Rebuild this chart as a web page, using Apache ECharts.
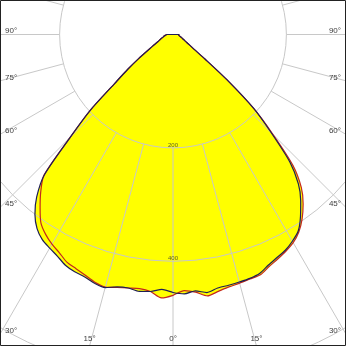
<!DOCTYPE html>
<html>
<head>
<meta charset="utf-8">
<script src="https://cdn.jsdelivr.net/npm/echarts@6/dist/echarts.min.js"></script>
<style>
html,body{margin:0;padding:0;background:#fff;}
#c{width:346px;height:346px;}
</style>
</head>
<body>
<div id="c"></div>
<script>
// Photometric angles (gamma, degrees from nadir)
const gammaAngles = [0,2.5,5,7.5,10,12.5,15,17.5,20,22.5,25,27.5,30,32.5,35,37.5,40,42.5,45,47.5,50,52.5,55,60,65,70,75,80,85,90];
// Intensity values (cd/klm)
const blackLeft  = [455,450,455,457,454,456,462,460,455,453,449,441,435,429,418,400,374,336,256,198,134,100,74,42,29,23,18,16,13,11];
const blackRight = [455,458,454,459,454,453,452,451,448,440,434,429,421,411,392,370,344,305,245,193,124,71,45,28,20,16,13,11,10,11];
const redLeft    = [460,465,455,452,454,457,461,458,452,447,443,434,427,418,406,385,363,337,256,198,134,100,74,42,29,23,18,16,13,11];
const redRight   = [460,452,456,465,460,456,454,452,451,443,437,431,424,413,397,377,352,313,250,193,124,71,45,28,20,16,13,11,10,11];
// Tick labels
const radiusTicks = [200, 400];
const radiusTickLabels = ['200', '400'];
const angleTicks = [90, 75, 60, 45, 30, 15, 0];
const angleTickLabels = ['90°', '75°', '60°', '45°', '30°', '15°', '0°'];

const W = 346, H = 346;
const CX = 173, CY = 34.5;
const R_MAX = 800, PX_PER_UNIT = 0.567;
const SMOOTH = 0.25;

function curve(leftVals, rightVals) {
  const pts = [[0, 180]];
  for (let i = gammaAngles.length - 1; i >= 0; i--) pts.push([leftVals[i], gammaAngles[i]]);
  for (let i = 1; i < gammaAngles.length; i++) pts.push([rightVals[i], 360 - gammaAngles[i]]);
  pts.push([0, 180]);
  return pts;
}

const gridColor = '#c8c8c8';
const series = [];
// fills
[[redLeft, redRight], [blackLeft, blackRight]].forEach(([l, r]) => {
  series.push({
    type: 'line', coordinateSystem: 'polar', data: curve(l, r), symbol: 'none', silent: true, smooth: SMOOTH,
    lineStyle: { width: 0, opacity: 0 }, areaStyle: { color: '#ffff00', opacity: 1 }, z: 1, animation: false
  });
});
// radial grid lines starting at the first circle
for (let a = 0; a < 360; a += 15) {
  series.push({
    type: 'line', coordinateSystem: 'polar', data: [[200, a], [R_MAX, a]], symbol: 'none', silent: true,
    lineStyle: { color: gridColor, width: 1 }, z: 3, animation: false
  });
}
// curves
series.push({
  type: 'line', coordinateSystem: 'polar', data: curve(redLeft, redRight), symbol: 'none', silent: true, smooth: SMOOTH,
  lineStyle: { color: '#c4281c', width: 1.2 }, z: 5, animation: false
});
series.push({
  type: 'line', coordinateSystem: 'polar', data: curve(blackLeft, blackRight), symbol: 'none', silent: true, smooth: SMOOTH,
  lineStyle: { color: '#1e1e55', width: 1.2 }, z: 6, animation: false
});
// radius labels
series.push({
  type: 'scatter', coordinateSystem: 'polar', silent: true, symbolSize: 1,
  itemStyle: { color: 'rgba(0,0,0,0)' },
  data: radiusTicks.map((v, i) => ({ value: [v, 0], label: { formatter: radiusTickLabels[i] } })),
  label: { show: true, position: 'inside', offset: [0, -3], fontSize: 6, color: '#333', fontFamily: 'Liberation Sans' },
  z: 7, animation: false
});

// angle labels at the frame edges
const graphics = [{
  type: 'rect', shape: { x: 0.5, y: 0.5, width: W - 1, height: H - 1 },
  style: { fill: 'none', stroke: '#222', lineWidth: 1 }, z: 100
}];
angleTicks.forEach((g, i) => {
  [-1, 1].forEach(sx => {
    if (g === 0 && sx === 1) return;
    const rad = g * Math.PI / 180;
    const dx = sx * Math.sin(rad), dy = Math.cos(rad);
    const tx = Math.abs(dx) > 1e-9 ? (sx < 0 ? CX : W - CX) / Math.abs(dx) : Infinity;
    const ty = dy > 1e-9 ? (H - CY) / dy : Infinity;
    let st;
    if (tx < ty) {
      const py = CY + tx * dy;
      st = { text: angleTickLabels[i], x: sx < 0 ? 5 : W - 5, y: py - 3.5, align: sx < 0 ? 'left' : 'right', verticalAlign: 'middle' };
    } else {
      const px = CX + ty * dx;
      st = { text: angleTickLabels[i], x: px, y: H - 7, align: 'center', verticalAlign: 'middle' };
    }
    graphics.push({ type: 'text', z: 101, style: Object.assign(st, { fill: '#404040', font: '8px "Liberation Sans", Arial, sans-serif' }) });
  });
});

const chart = echarts.init(document.getElementById('c'), null, { renderer: 'canvas' });
chart.setOption({
  backgroundColor: '#ffffff',
  animation: false,
  polar: { center: [CX, CY], radius: R_MAX * PX_PER_UNIT },
  radiusAxis: {
    type: 'value', min: 0, max: R_MAX, interval: 200, z: 3,
    axisLine: { show: false }, axisTick: { show: false }, axisLabel: { show: false },
    splitLine: { show: true, lineStyle: { color: gridColor, width: 1 } }
  },
  angleAxis: {
    type: 'value', min: 0, max: 360, startAngle: 270, clockwise: true,
    axisLine: { show: false }, axisTick: { show: false }, axisLabel: { show: false },
    splitLine: { show: false }
  },
  series: series,
  graphic: graphics
});
</script>
</body>
</html>
